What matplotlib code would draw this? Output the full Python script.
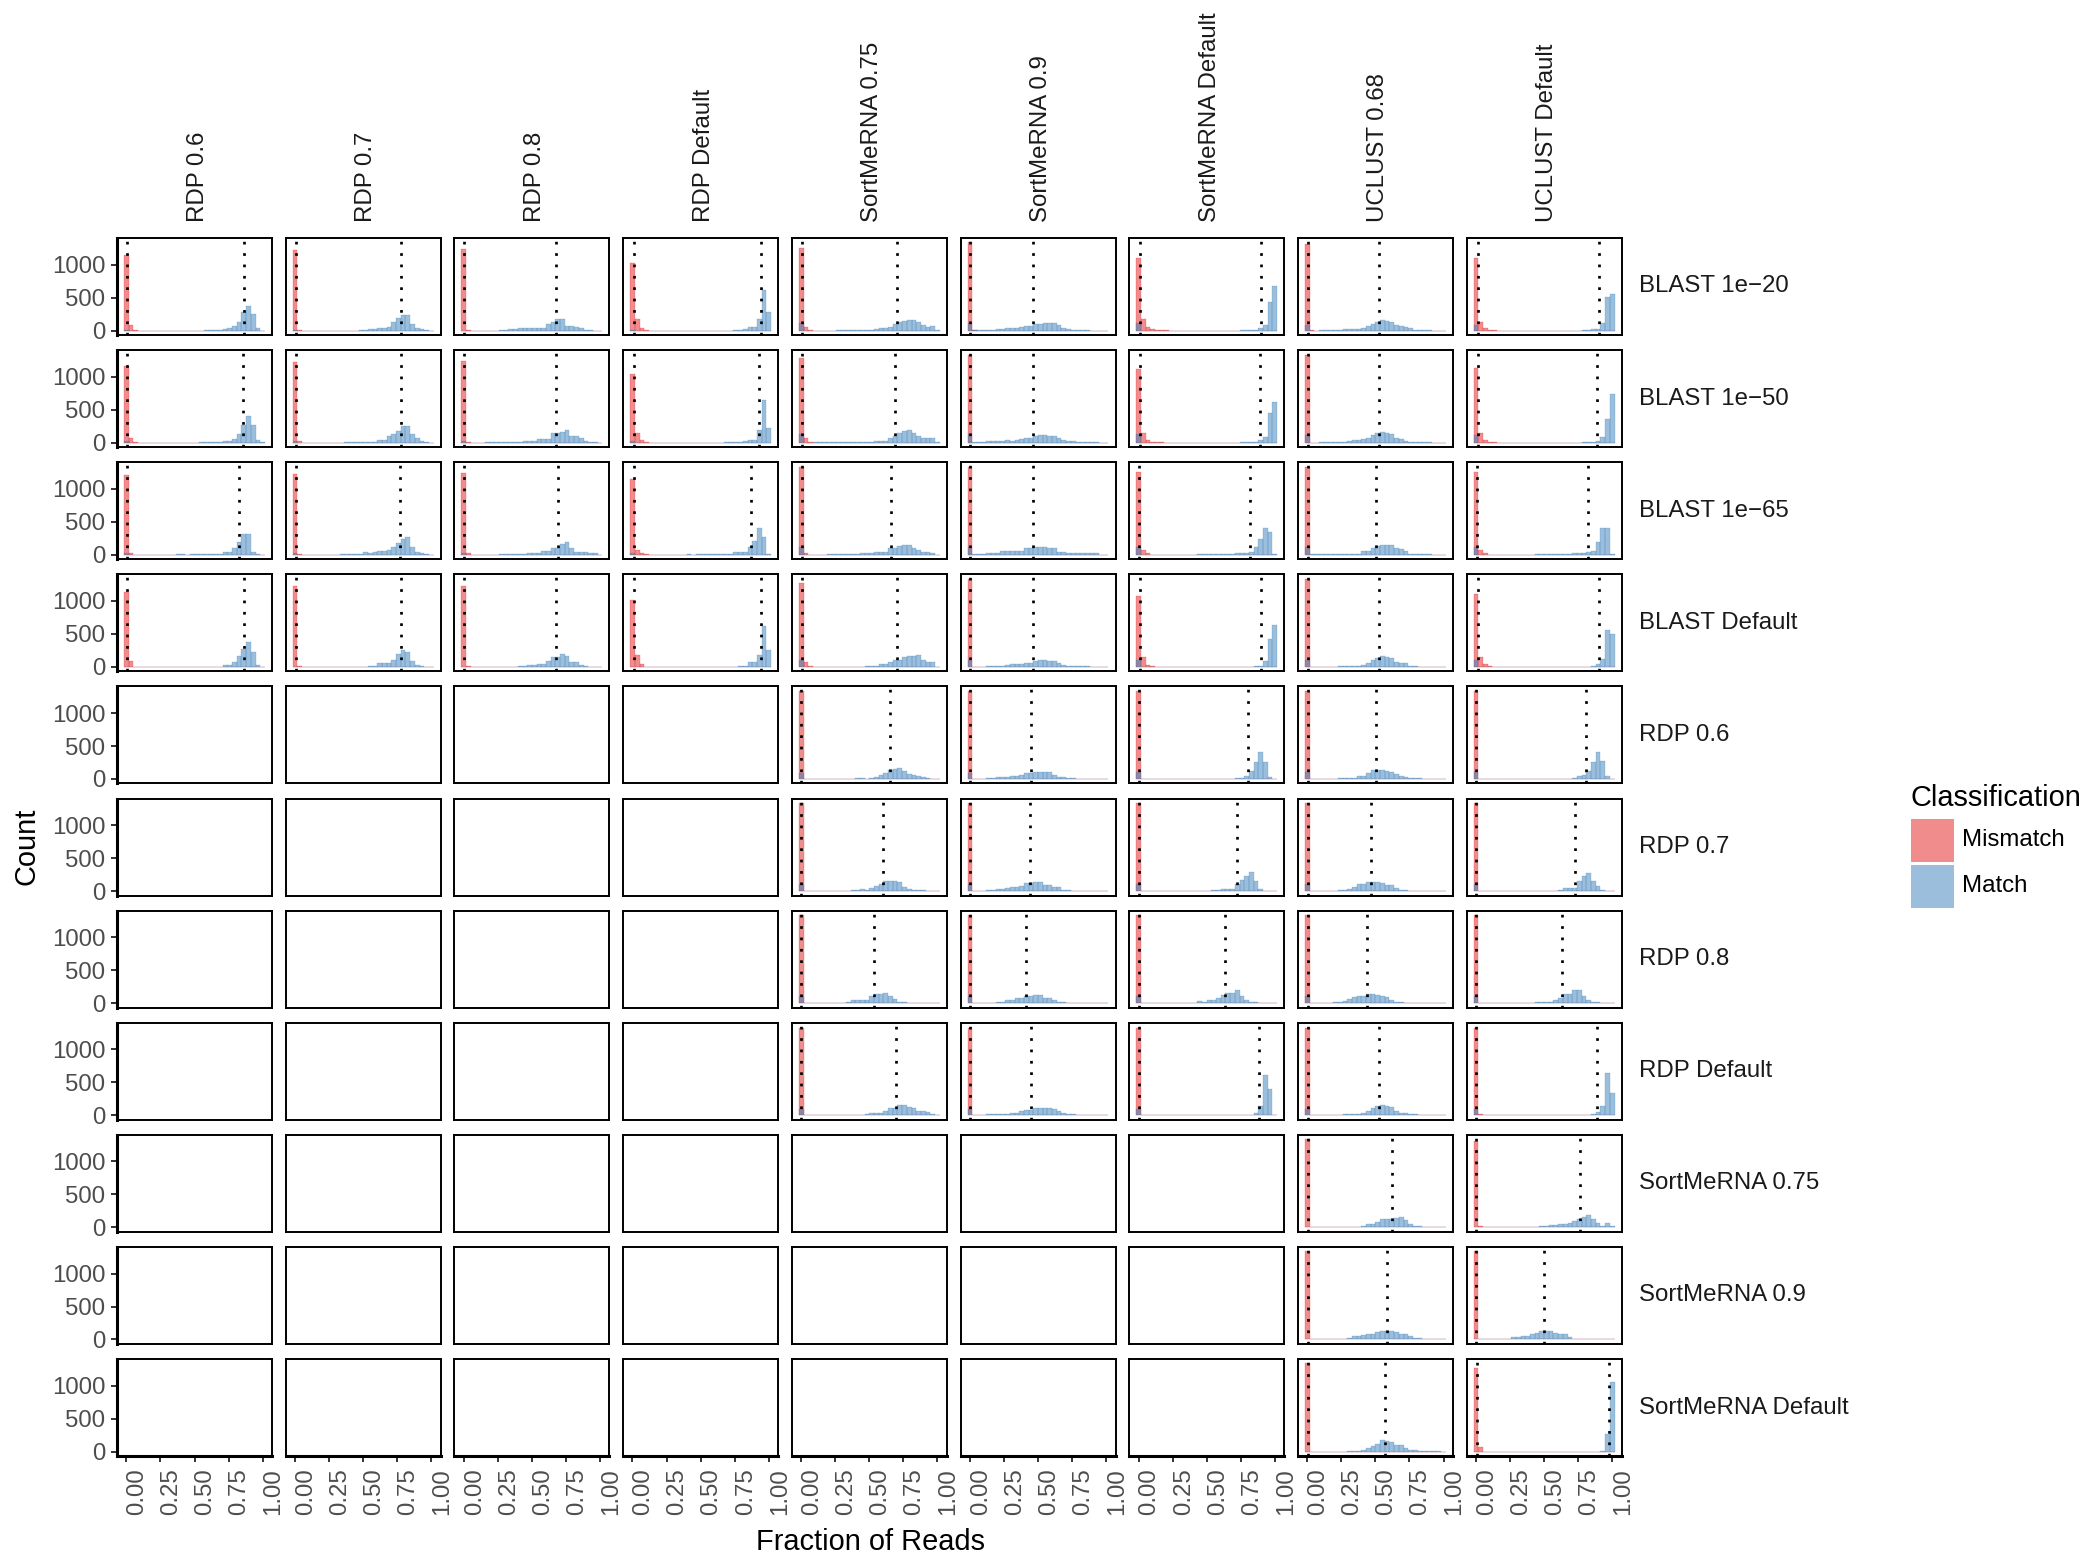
import matplotlib
matplotlib.use("Agg")
import matplotlib.pyplot as plt
from matplotlib.patches import Rectangle
import numpy as np

plt.rcParams['font.family'] = ['Liberation Sans', 'DejaVu Sans']

# ---------------- data ----------------
row_labels = ["BLAST 1e\u221220", "BLAST 1e\u221250", "BLAST 1e\u221265", "BLAST Default",
              "RDP 0.6", "RDP 0.7", "RDP 0.8", "RDP Default",
              "SortMeRNA 0.75", "SortMeRNA 0.9", "SortMeRNA Default"]
col_labels = ["RDP 0.6", "RDP 0.7", "RDP 0.8", "RDP Default",
              "SortMeRNA 0.75", "SortMeRNA 0.9", "SortMeRNA Default",
              "UCLUST 0.68", "UCLUST Default"]
series_labels = ["Mismatch", "Match"]
x_ticks = [0.0, 0.25, 0.5, 0.75, 1.0]
x_tick_labels = ["0.00", "0.25", "0.50", "0.75", "1.00"]
y_ticks = [0, 500, 1000]
y_tick_labels = ["0", "500", "1000"]
n_bins = 30

# Mismatch counts per bin (leading bins; remaining bins are zero), one list per row
mismatch_rdp06 = [[1146, 86, 15] + [0] * 27, [1167, 76, 15] + [0] * 27,
                  [1207, 30] + [0] * 28, [1141, 86] + [0] * 28] + [None] * 7
mismatch_rdp07 = [[1222, 15] + [0] * 28, [1227, 30] + [0] * 28,
                  [1232, 10] + [0] * 28, [1222, 20] + [0] * 28] + [None] * 7
mismatch_rdp08 = [[1237, 15] + [0] * 28, [1242, 15] + [0] * 28,
                  [1247, 20] + [0] * 28, [1232, 10] + [0] * 28] + [None] * 7
mismatch_rdpdef = [[1020, 177, 45, 15] + [0] * 26, [1040, 152, 40, 15] + [0] * 26,
                   [1157, 71, 20, 10] + [0] * 26, [1015, 182, 45] + [0] * 27] + [None] * 7
mismatch_sort075 = [[1258, 60, 15] + [0] * 27, [1278, 65, 15] + [0] * 27,
                    [1328, 30] + [0] * 28, [1273, 70, 20] + [0] * 27,
                    [1338] + [0] * 29, [1338] + [0] * 29, [1338] + [0] * 29,
                    [1328] + [0] * 29] + [None] * 3
mismatch_sort09 = [[1338, 15] + [0] * 28, [1338] + [0] * 29, [1328] + [0] * 29,
                   [1333] + [0] * 29, [1338] + [0] * 29, [1338] + [0] * 29,
                   [1338] + [0] * 29, [1328] + [0] * 29] + [None] * 3
mismatch_sortdef = [[1096, 172, 50, 20, 15, 15, 10] + [0] * 23,
                    [1111, 152, 40, 15, 15, 15] + [0] * 24,
                    [1252, 71, 20] + [0] * 27, [1081, 157, 35, 15] + [0] * 26,
                    [1338] + [0] * 29, [1338] + [0] * 29, [1338] + [0] * 29,
                    [1328] + [0] * 29] + [None] * 3
mismatch_uc068 = [[1313, 15] + [0] * 28, [1328] + [0] * 29, [1338] + [0] * 29,
                  [1333] + [0] * 29, [1338] + [0] * 29, [1338] + [0] * 29,
                  [1338] + [0] * 29, [1328] + [0] * 29, [1338] + [0] * 29,
                  [1338] + [0] * 29, [1338] + [0] * 29]
mismatch_ucdef = [[1106, 136, 45, 15, 15] + [0] * 25, [1126, 141, 40, 15, 15] + [0] * 25,
                  [1258, 71, 20] + [0] * 27, [1101, 157, 45, 20] + [0] * 26,
                  [1338] + [0] * 29, [1338] + [0] * 29, [1338] + [0] * 29,
                  [1328, 15] + [0] * 28, [1308, 15] + [0] * 28,
                  [1338] + [0] * 29, [1268, 66] + [0] * 28]

# Match counts per bin (30 bins), one list per row
match_rdp06 = [
    [10,0,0,0,0,0,0,0,0,0, 0,0,0,0,0,0,0,5,8,10, 15,22,35,70,136,275,380,250,32,0],
    [30,0,0,0,0,0,0,0,0,0, 0,0,0,0,0,0,15,15,10,10, 10,25,25,55,136,263,409,263,40,15],
    [30,0,0,0,0,0,0,0,0,0, 0,15,15,0,15,15,15,15,15,15, 15,45,45,96,187,323,323,35,10,0],
    [0,0,0,0,0,0,0,0,0,0, 0,0,0,0,0,0,0,0,0,5, 5,35,35,70,160,273,374,222,35,0],
] + [None] * 7
match_rdp07 = [
    [10,0,0,0,0,0,0,0,0,0, 0,0,0,0,10,10,25,25,45,45, 60,126,197,242,242,106,35,20,5,0],
    [25,0,0,0,0,0,0,0,0,0, 0,15,15,15,15,15,15,15,45,45, 100,126,177,258,258,136,65,25,15,0],
    [25,0,0,0,0,0,0,0,0,0, 15,15,15,15,15,35,20,45,60,60, 80,121,172,247,263,121,35,25,10,0],
    [0,0,0,0,0,0,0,0,0,0, 0,0,0,0,0,0,20,20,55,55, 60,100,192,250,222,90,30,10,0,0],
] + [None] * 7
match_rdp08 = [
    [0,0,0,0,0,0,0,0,15,15, 25,25,35,35,35,45,45,45,106,131, 177,177,70,70,50,35,15,15,0,0],
    [25,0,0,0,0,10,10,15,15,15, 15,15,15,30,30,30,55,55,55,141, 141,167,197,106,106,65,30,15,15,0],
    [30,0,0,0,0,0,0,0,15,15, 15,15,15,15,30,30,30,55,55,106, 106,162,197,106,35,35,35,20,20,0],
    [0,0,0,0,0,0,0,0,0,0, 0,0,20,20,30,30,45,45,96,146, 146,192,160,70,70,35,10,0,0,0],
] + [None] * 7
match_rdpdef = [
    [5,0,0,0,0,0,0,0,0,0, 0,0,0,0,0,0,0,0,0,0, 0,0,15,15,30,50,50,177,616,278],
    [30,0,0,0,0,0,0,0,0,0, 0,0,0,0,0,0,0,0,0,0, 15,15,15,15,30,40,40,192,646,227],
    [30,0,0,0,0,0,0,0,0,0, 0,0,15,0,10,10,10,10,10,10, 10,10,45,45,45,121,212,409,273,15],
    [0,0,0,0,0,0,0,0,0,0, 0,0,0,0,0,0,0,0,0,0, 0,0,0,20,20,70,70,177,616,258],
] + [None] * 7
match_sort075 = [
    [111,0,0,0,0,0,0,0,10,10, 10,10,10,10,10,15,25,45,45,60, 96,126,146,167,167,126,86,60,76,10],
    [126,0,0,10,10,10,10,15,15,15, 15,15,15,15,15,15,30,30,30,65, 106,141,177,192,141,106,76,65,70,5],
    [121,0,0,0,0,0,10,10,10,10, 10,10,10,30,30,30,45,45,45,106, 106,136,146,146,106,71,45,45,20,0],
    [106,0,0,0,0,0,0,0,0,0, 0,0,0,0,20,20,20,40,40,70, 111,111,146,162,162,182,111,70,70,0],
    [91,0,0,0,0,0,0,0,0,0, 0,0,15,15,0,15,35,55,86,136, 152,167,126,76,65,50,25,15,5,5],
    [106,0,0,0,0,0,0,0,0,0, 0,15,15,25,20,45,81,106,146,146, 157,131,65,30,20,20,10,0,0,0],
    [111,0,0,0,0,0,0,0,0,0, 15,45,45,45,45,111,136,146,157,111, 60,20,20,10,10,10,0,0,0,0],
    [101,0,0,0,0,0,0,0,0,0, 0,0,0,0,25,35,35,35,66,106, 106,152,152,131,106,66,66,55,25,0],
] + [None] * 3
match_sort09 = [
    [111,5,5,5,10,10,20,20,35,35, 35,50,70,70,96,96,116,116,116,86, 35,25,15,15,5,5,0,0,0,0],
    [126,10,10,10,25,25,25,25,40,30, 45,55,76,76,106,116,116,106,106,65, 45,30,30,15,15,15,15,15,0,0],
    [121,15,15,15,30,30,30,55,55,55, 55,55,96,96,121,121,121,96,96,35, 35,25,25,20,20,20,20,20,0,0],
    [106,0,0,0,20,20,20,20,30,40, 40,40,60,60,96,111,111,86,86,60, 35,20,20,20,10,10,0,0,0,0],
    [91,0,0,0,15,15,25,25,35,45, 45,60,96,96,111,111,106,106,65,25, 25,15,15,5,5,5,5,5,0,0],
    [106,0,0,0,15,15,25,25,45,55, 55,81,116,116,131,131,96,96,55,55, 15,15,0,0,0,0,0,0,0,0],
    [111,0,0,10,10,10,20,20,50,50, 86,86,111,111,126,126,86,86,45,20, 20,10,10,0,0,0,0,0,0,0],
    [101,0,0,0,15,15,15,15,15,35, 35,66,86,86,116,116,116,116,91,66, 40,15,15,0,0,0,0,0,0,0],
] + [None] * 3
match_sortdef = [
    [111,0,0,0,0,0,0,0,0,0, 0,0,0,0,0,0,0,0,0,0, 0,0,15,15,15,15,40,86,429,682],
    [126,0,0,0,0,0,0,0,0,0, 0,0,0,0,0,0,0,0,0,0, 0,0,15,15,15,15,40,91,455,621],
    [111,0,0,0,0,0,0,0,0,0, 0,0,0,15,15,15,15,15,15,15, 15,30,30,30,45,121,247,399,348,10],
    [106,0,0,0,0,0,0,0,0,0, 0,0,0,0,0,0,0,0,0,0, 0,0,0,0,0,10,20,86,424,641],
    [101,0,0,0,0,0,0,0,0,0, 0,0,0,0,0,0,0,0,0,0, 0,10,15,45,126,263,404,253,25,0],
    [106,0,0,0,0,0,0,0,0,0, 0,0,0,0,0,0,20,20,30,30, 30,106,167,232,283,157,30,5,0,0],
    [111,0,0,0,0,0,0,0,0,0, 0,0,0,35,20,45,45,86,121,162, 162,197,111,45,20,20,0,0,0,0],
    [101,0,0,0,0,0,0,0,0,0, 0,0,0,0,0,0,0,0,0,0, 0,0,0,0,0,35,141,611,394,0],
] + [None] * 3
match_uc068 = [
    [86,0,0,15,15,10,10,10,30,30, 30,30,45,65,101,126,162,152,136,86, 65,50,35,15,15,15,15,0,0,0],
    [116,0,0,15,15,15,15,15,15,25, 40,40,55,76,116,146,167,152,131,76, 55,30,15,15,15,15,15,0,0,0],
    [111,15,15,15,15,15,15,15,15,15, 15,15,55,55,96,136,146,146,146,106, 81,60,15,15,15,15,15,0,0,0],
    [106,0,0,0,0,0,0,20,20,20, 20,20,35,60,106,131,162,146,131,70, 55,55,20,20,0,0,0,0,0,0],
    [101,0,0,0,0,0,0,15,15,15, 15,45,45,96,136,141,141,121,111,76, 50,30,10,10,10,0,0,0,0,0],
    [106,0,0,0,0,0,0,15,15,25, 55,106,106,131,131,131,116,96,96,45, 20,20,5,5,5,5,5,5,5,0],
    [111,0,0,0,0,0,15,15,40,60, 90,111,111,136,136,120,111,90,45,20, 20,5,5,5,5,5,0,0,0,0],
    [101,0,0,0,0,0,0,0,15,15, 15,15,30,66,106,141,157,141,131,66, 40,40,15,15,0,0,0,0,0,0],
    [0,0,0,0,0,0,0,0,0,10, 10,10,25,45,45,86,131,131,131,146, 157,111,45,20,20,5,5,5,5,0],
    [0,0,0,0,0,0,0,10,10,20, 50,50,66,86,86,111,126,126,126,111, 76,76,50,25,25,5,5,5,5,0],
    [0,0,0,0,0,0,0,0,0,10, 15,15,30,55,81,116,172,156,146,96, 96,55,30,30,5,5,5,5,5,0],
]
match_ucdef = [
    [86,0,0,0,0,0,0,0,0,0, 0,0,0,0,0,0,0,0,0,0, 0,0,0,15,15,25,25,111,515,556],
    [116,0,0,0,0,0,0,0,0,0, 0,0,0,0,0,0,0,0,0,0, 0,0,0,15,15,15,30,91,358,742],
    [111,0,0,0,0,0,0,0,0,0, 0,0,0,15,15,15,15,15,15,15, 15,30,30,30,40,55,187,399,409,15],
    [106,0,0,0,0,0,0,0,0,0, 0,0,0,0,0,0,0,0,0,0, 0,0,0,0,0,20,40,121,561,495],
    [101,0,0,0,0,0,0,0,0,0, 0,0,0,0,0,0,0,0,0,0, 0,10,40,65,116,258,409,273,45,0],
    [106,0,0,0,0,0,0,0,0,0, 0,0,0,0,0,0,0,0,15,45, 45,45,157,232,278,157,81,15,5,5],
    [111,0,0,0,0,0,0,0,0,0, 0,0,0,15,15,25,25,45,86,136, 136,197,197,111,50,20,20,5,5,0],
    [101,0,0,0,0,0,0,0,0,0, 0,0,0,0,0,0,0,0,0,0, 0,0,0,0,0,15,55,141,646,343],
    [0,0,0,0,0,0,0,0,0,0, 0,0,0,0,15,15,30,30,50,50, 71,96,131,162,182,121,66,20,71,15],
    [0,0,0,0,10,10,10,10,35,35, 50,50,76,101,126,126,126,101,76,76, 35,15,15,5,5,5,5,5,5,5],
    [0,0,0,0,0,0,0,0,0,0, 0,0,0,0,0,0,0,0,0,0, 0,0,0,0,0,0,0,5,268,1050],
]

# dotted reference lines (group means) per panel
mean_mismatch_rdp06 = [0.008, 0.008, 0.008, 0.008] + [None] * 7
mean_mismatch_rdp07 = [0.005, 0.005, 0.005, 0.005] + [None] * 7
mean_mismatch_rdp08 = [0.005, 0.005, 0.005, 0.005] + [None] * 7
mean_mismatch_rdpdef = [0.012, 0.012, 0.008, 0.012] + [None] * 7
mean_mismatch_sort075 = [0.006, 0.006, 0.003, 0.006, 0.0, 0.0, 0.0, 0.0] + [None] * 3
mean_mismatch_sort09 = [0.0, 0.0, 0.0, 0.0, 0.0, 0.0, 0.0, 0.0] + [None] * 3
mean_mismatch_sortdef = [0.013, 0.013, 0.006, 0.013, 0.0, 0.0, 0.0, 0.0] + [None] * 3
mean_mismatch_uc068 = [0.002] * 11
mean_mismatch_ucdef = [0.012, 0.012, 0.006, 0.012, 0.002, 0.002, 0.002, 0.002, 0.002, 0.002, 0.004]

mean_match_rdp06 = [0.865, 0.858, 0.826, 0.865] + [None] * 7
mean_match_rdp07 = [0.775, 0.775, 0.770, 0.775] + [None] * 7
mean_match_rdp08 = [0.679, 0.680, 0.690, 0.679] + [None] * 7
mean_match_rdpdef = [0.944, 0.930, 0.872, 0.944] + [None] * 7
mean_match_sort075 = [0.700, 0.690, 0.656, 0.700, 0.655, 0.600, 0.537, 0.696] + [None] * 3
mean_match_sort09 = [0.464, 0.460, 0.460, 0.464, 0.450, 0.440, 0.410, 0.450] + [None] * 3
mean_match_sortdef = [0.900, 0.890, 0.817, 0.900, 0.806, 0.724, 0.635, 0.886] + [None] * 3
mean_match_uc068 = [0.530, 0.525, 0.505, 0.530, 0.503, 0.470, 0.435, 0.524, 0.625, 0.586, 0.572]
mean_match_ucdef = [0.900, 0.885, 0.823, 0.900, 0.808, 0.724, 0.635, 0.890, 0.760, 0.497, 0.980]

mismatch_cols = [mismatch_rdp06, mismatch_rdp07, mismatch_rdp08, mismatch_rdpdef,
                 mismatch_sort075, mismatch_sort09, mismatch_sortdef, mismatch_uc068, mismatch_ucdef]
match_cols = [match_rdp06, match_rdp07, match_rdp08, match_rdpdef,
              match_sort075, match_sort09, match_sortdef, match_uc068, match_ucdef]
mean_mm_cols = [mean_mismatch_rdp06, mean_mismatch_rdp07, mean_mismatch_rdp08, mean_mismatch_rdpdef,
                mean_mismatch_sort075, mean_mismatch_sort09, mean_mismatch_sortdef,
                mean_mismatch_uc068, mean_mismatch_ucdef]
mean_ma_cols = [mean_match_rdp06, mean_match_rdp07, mean_match_rdp08, mean_match_rdpdef,
                mean_match_sort075, mean_match_sort09, mean_match_sortdef,
                mean_match_uc068, mean_match_ucdef]

# ---------------- styling / layout ----------------
W, H = 2086, 1557
fig = plt.figure(figsize=(W / 100, H / 100), dpi=100)
fig.patch.set_facecolor('white')

red_base = '#E41A1C'
blue_base = '#377EB8'
alpha = 0.5

left0, pitch_x, pw = 117, 168.7, 155
top0, pitch_y, ph = 238, 112.1, 97

binw = 1.0 / (n_bins - 1)
centers = np.linspace(0, 1, n_bins)
xr = (1 + binw)
xlim = (-binw / 2 - 0.05 * xr, 1 + binw / 2 + 0.05 * xr)
ymax = max(max(v) for col in (mismatch_cols + match_cols) for v in col if v is not None)
ylim = (-0.05 * ymax, 1.05 * ymax)

small = 17.3
big = 20.9

def fig_rect(x, y, w, h):
    return [x / W, 1 - (y + h) / H, w / W, h / H]

nrow, ncol = len(row_labels), len(col_labels)
for c in range(ncol):
    for r in range(nrow):
        x0 = left0 + c * pitch_x
        y0 = top0 + r * pitch_y
        ax = fig.add_axes(fig_rect(x0, y0, pw, ph))
        ax.set_xlim(*xlim)
        ax.set_ylim(*ylim)
        mm = mismatch_cols[c][r]
        ma = match_cols[c][r]
        if mm is not None:
            ax.bar(centers, mm, width=binw, color=red_base, alpha=alpha,
                   edgecolor=red_base, linewidth=0.3, zorder=2)
        if ma is not None:
            ax.bar(centers, ma, width=binw, color=blue_base, alpha=alpha,
                   edgecolor=blue_base, linewidth=0.3, zorder=3)
        for mv in (mean_mm_cols[c][r], mean_ma_cols[c][r]):
            if mv is not None:
                ax.axvline(mv, color='black', linestyle=(0, (1, 3.2)),
                           linewidth=1.95, zorder=4)
        for s in ax.spines.values():
            s.set_linewidth(1.4)
            s.set_color('black')
        if c == 0:
            ax.spines['left'].set_linewidth(2.2)
            ax.set_yticks(y_ticks)
            ax.set_yticklabels(y_tick_labels)
            ax.tick_params(axis='y', length=4.5, width=1.4, color='#333333',
                           labelsize=small, labelcolor='#4D4D4D', pad=4)
        else:
            ax.set_yticks([])
        if r == nrow - 1:
            ax.spines['bottom'].set_linewidth(2.2)
            ax.set_xticks(x_ticks)
            ax.set_xticklabels(x_tick_labels, rotation=90, ha='left', va='top')
            ax.tick_params(axis='x', length=4.5, width=1.4, color='#333333',
                           labelsize=small, labelcolor='#4D4D4D', pad=4)
        else:
            ax.set_xticks([])

# column strip labels
for c, lab in enumerate(col_labels):
    xc = left0 + c * pitch_x + pw / 2 + 3
    fig.text(xc / W, 1 - 222 / H, lab, rotation=90, ha='center', va='bottom',
             fontsize=small, color='#1A1A1A')
# row strip labels
for r, lab in enumerate(row_labels):
    yc = top0 + r * pitch_y + ph / 2
    fig.text(1639 / W, 1 - yc / H, lab, ha='left', va='center',
             fontsize=small, color='#1A1A1A')

# axis titles
fig.text(870 / W, 1 - 1550 / H, "Fraction of Reads", ha='center', va='baseline',
         fontsize=big, color='black')
fig.text(26 / W, 1 - 846 / H, "Count", rotation=90, ha='center', va='center',
         fontsize=big, color='black')

# legend
fig.text(1910 / W, 1 - 806 / H, "Classification", ha='left', va='baseline',
         fontsize=big, color='black')
for i, (lab, colr) in enumerate(zip(series_labels, [red_base, blue_base])):
    ky = 819 + i * 46
    fig.add_artist(Rectangle((1911 / W, 1 - (ky + 43) / H), 43 / W, 43 / H,
                             transform=fig.transFigure, facecolor=colr, alpha=alpha,
                             edgecolor='none'))
    fig.text(1962 / W, 1 - (ky + 21.5) / H, lab, ha='left', va='center',
             fontsize=small, color='black')

fig.savefig("out.png", dpi=100, facecolor='white')
